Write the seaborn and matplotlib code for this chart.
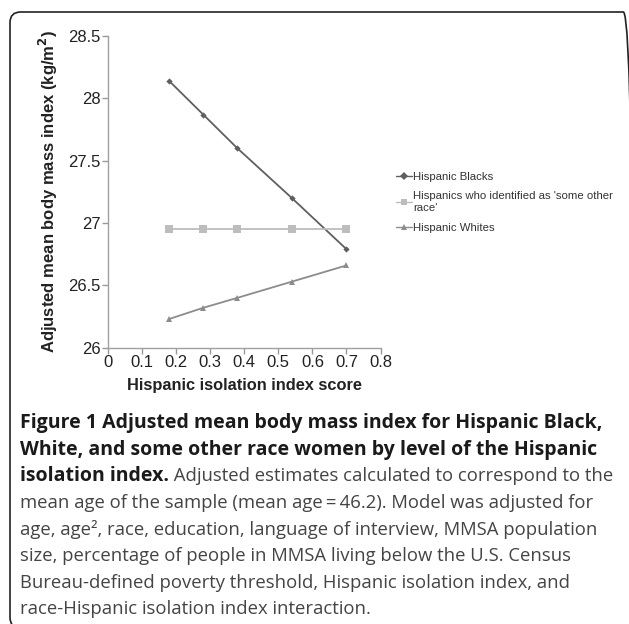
import pandas as pd
import matplotlib
matplotlib.use("Agg")
import matplotlib.pyplot as plt
import seaborn as sns
from matplotlib.patches import FancyBboxPatch

# data
isolation = [0.18, 0.28, 0.38, 0.54, 0.70]
bmi_blacks = [28.14, 27.87, 27.60, 27.20, 26.79]
bmi_other = [26.95, 26.95, 26.95, 26.95, 26.95]
bmi_whites = [26.23, 26.32, 26.40, 26.53, 26.66]

groups = ["Hispanic Blacks",
          "Hispanics who identified as 'some other\nrace'",
          "Hispanic Whites"]
x_ticks = [0, 0.1, 0.2, 0.3, 0.4, 0.5, 0.6, 0.7, 0.8]
y_ticks = [26, 26.5, 27, 27.5, 28, 28.5]
x_tick_labels = ["0", "0.1", "0.2", "0.3", "0.4", "0.5", "0.6", "0.7", "0.8"]
y_tick_labels = ["26", "26.5", "27", "27.5", "28", "28.5"]

df = pd.DataFrame({
    "x": isolation * 3,
    "bmi": bmi_blacks + bmi_other + bmi_whites,
    "group": [groups[0]] * 5 + [groups[1]] * 5 + [groups[2]] * 5,
})

sns.set_theme(style="white")
plt.rcParams['font.family'] = ['Liberation Sans', 'DejaVu Sans']

W, H = 629, 624
fig = plt.figure(figsize=(W / 100, H / 100), dpi=100)

# rounded frame around the figure panel (right and bottom run off the edge)
frame = FancyBboxPatch((10 / W, 1 - 628 / H), (634 - 10) / W, (628 - 12) / H,
                       boxstyle="round,pad=0,rounding_size=0.017",
                       transform=fig.transFigure, fill=False,
                       edgecolor="#222222", linewidth=1.2, clip_on=False)
fig.patches.append(frame)

ax = fig.add_axes([107.7 / W, 1 - 347.7 / H, (380.6 - 107.7) / W, (347.7 - 36) / H])

palette = {groups[0]: "#5f5f5f", groups[1]: "#bdbdbd", groups[2]: "#8c8c8c"}
markers = {groups[0]: "D", groups[1]: "s", groups[2]: "^"}
sizes = {groups[0]: 3.2, groups[1]: 6, groups[2]: 5}

sns.lineplot(data=df, x="x", y="bmi", hue="group", style="group",
             palette=palette, markers=markers, dashes=False,
             linewidth=1.3, markeredgewidth=0, ax=ax, legend=False)
for line, g in zip(ax.get_lines(), groups):
    line.set_markersize(sizes[g])

ax.set_xlim(0, 0.8)
ax.set_ylim(26, 28.5)
ax.set_xticks(x_ticks)
ax.set_xticklabels(x_tick_labels)
ax.set_yticks(y_ticks)
ax.set_yticklabels(y_tick_labels)
ax.tick_params(axis="both", labelsize=12, colors="#999999", labelcolor="#222222",
               length=4, width=1, direction="out", pad=1)
ax.tick_params(axis="x", bottom=True)
ax.tick_params(axis="y", left=True)
for side in ["top", "right"]:
    ax.spines[side].set_visible(False)
for side in ["left", "bottom"]:
    ax.spines[side].set_color("#a0a0a0")
    ax.spines[side].set_linewidth(1)

ax.set_xlabel("Hispanic isolation index score", fontsize=11.8, fontweight="bold",
              color="#222222", labelpad=6)
ax.set_ylabel("Adjusted mean body mass index (kg/m$^\\mathbf{2}$)", fontsize=12,
              fontweight="bold", color="#222222", labelpad=6)

# legend built from the drawn lines
handles = ax.get_lines()
leg = ax.legend(handles, groups, loc="upper left",
                bbox_to_anchor=(390 / W, 1 - 166 / H), bbox_transform=fig.transFigure,
                frameon=False, fontsize=8.2, handlelength=1.4, handletextpad=0.1,
                labelspacing=0.85, borderpad=0, labelcolor="#333333")
for h in leg.legend_handles:
    h.set_markersize(4)
    h.set_linewidth(1)

# caption
cap_x = 20 / W
line_h = 26.6
first = 423
bold_lines = ["Figure 1 Adjusted mean body mass index for Hispanic Black,",
              "White, and some other race women by level of the Hispanic",
              "isolation index."]
plain_lines = ["mean age of the sample (mean age\u2009=\u200946.2). Model was adjusted for",
               "age, age\u00b2, race, education, language of interview, MMSA population",
               "size, percentage of people in MMSA living below the U.S. Census",
               "Bureau-defined poverty threshold, Hispanic isolation index, and",
               "race-Hispanic isolation index interaction."]
cap_family = ["Open Sans", "DejaVu Sans"]
for i, t in enumerate(bold_lines):
    txt = fig.text(cap_x, 1 - (first + i * line_h) / H, t, fontweight="bold",
                   color="#1a1a1a", family=cap_family, fontsize=14,
                   va="center", ha="left")
fig.canvas.draw()
bb = txt.get_window_extent().transformed(fig.transFigure.inverted())
fig.text(bb.x1, 1 - (first + 2 * line_h) / H,
         " Adjusted estimates calculated to correspond to the",
         color="#444444", family=cap_family, fontsize=13.3, va="center", ha="left")
for j, t in enumerate(plain_lines):
    fig.text(cap_x, 1 - (first + (3 + j) * line_h) / H, t,
             color="#444444", family=cap_family, fontsize=13.3,
             va="center", ha="left")

fig.savefig("out.png", dpi=100)
